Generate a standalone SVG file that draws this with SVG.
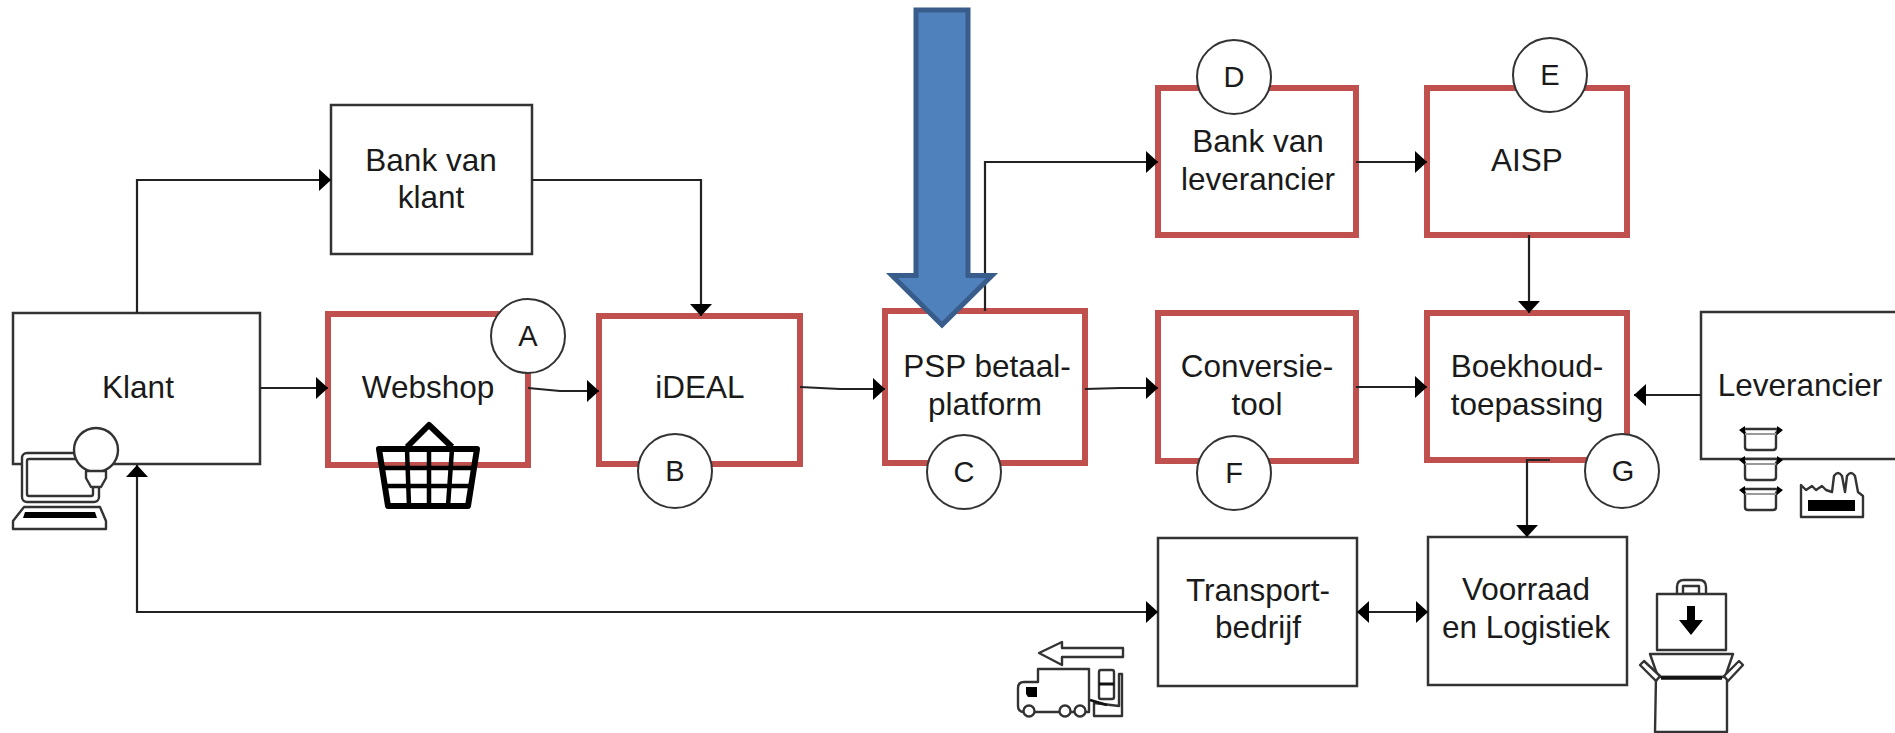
<svg xmlns="http://www.w3.org/2000/svg" width="1895" height="733" viewBox="0 0 1895 733">
<style>
text{font-family:"Liberation Sans",Arial,sans-serif;font-size:31.5px;fill:#1a1a1a;text-anchor:middle}
.k{fill:#fff;stroke:#333;stroke-width:2.5}
.r{fill:#fff;stroke:#c0504d;stroke-width:6}
.c{fill:#fff;stroke:#333;stroke-width:2}
.t{font-size:29px}
.l{fill:none;stroke:#222;stroke-width:2.2}
.i{fill:#fff;stroke:#333;stroke-width:2.4;stroke-linejoin:round}
.b{fill:none;stroke:#000;stroke-width:6;stroke-linejoin:round}
.f{fill:#000}
</style>
<defs>
<marker id="a" viewBox="0 0 12 22" refX="12" refY="11" markerWidth="12" markerHeight="22" markerUnits="userSpaceOnUse" orient="auto-start-reverse"><path d="M0 0L12 11L0 22z" fill="#000"/></marker>
</defs>
<rect width="1895" height="733" fill="#fff"/>
<g id="klant"><rect class="k" x="13" y="313" width="247" height="151"/><text x="138" y="398">Klant</text></g>
<g id="bank-van-klant"><rect class="k" x="331" y="105" width="201" height="149"/><text x="431" y="171">Bank van</text><text x="431" y="208">klant</text></g>
<g id="webshop"><rect class="r" x="328" y="314" width="200" height="151"/><text x="428" y="398">Webshop</text></g>
<g id="ideal"><rect class="r" x="599" y="316" width="201" height="148"/><text x="700" y="398">iDEAL</text></g>
<g id="psp"><rect class="r" x="885" y="311" width="200" height="152"/><text x="987" y="377">PSP betaal-</text><text x="985" y="415">platform</text></g>
<g id="conversie"><rect class="r" x="1158" y="313" width="198" height="148"/><text x="1257" y="377">Conversie-</text><text x="1257" y="415">tool</text></g>
<g id="boekhoud"><rect class="r" x="1427" y="313" width="200" height="147"/><text x="1527" y="377">Boekhoud-</text><text x="1527" y="415">toepassing</text></g>
<g id="bank-lev"><rect class="r" x="1158" y="88" width="198" height="147"/><text x="1258" y="152">Bank van</text><text x="1258" y="190">leverancier</text></g>
<g id="aisp"><rect class="r" x="1427" y="88" width="200" height="147"/><text x="1527" y="171">AISP</text></g>
<g id="leverancier"><rect class="k" x="1701" y="312" width="210" height="147"/><text x="1800" y="396">Leverancier</text></g>
<g id="transport"><rect class="k" x="1158" y="538" width="199" height="148"/><text x="1258" y="601">Transport-</text><text x="1258" y="638">bedrijf</text></g>
<g id="voorraad"><rect class="k" x="1428" y="537" width="199" height="148"/><text x="1526" y="600">Voorraad</text><text x="1526" y="638">en Logistiek</text></g>
<g id="connectors" class="l">
<path class="l" d="M137 313V180H331" marker-end="url(#a)"/>
<path class="l" d="M532 180H701V316" marker-end="url(#a)"/>
<path class="l" d="M260 388H328" marker-end="url(#a)"/>
<path class="l" d="M528 388L560 391H599" marker-end="url(#a)"/>
<path class="l" d="M800 387L840 389H885" marker-end="url(#a)"/>
<path class="l" d="M1085 389L1120 388H1158" marker-end="url(#a)"/>
<path class="l" d="M1356 387H1427" marker-end="url(#a)"/>
<path class="l" d="M1701 395H1634" marker-end="url(#a)"/>
<path class="l" d="M985 311V162H1158" marker-end="url(#a)"/>
<path class="l" d="M1356 162H1427" marker-end="url(#a)"/>
<path class="l" d="M1529 235V313" marker-end="url(#a)"/>
<path class="l" d="M1550 460H1527V537" marker-end="url(#a)"/>
<path class="l" d="M1158 612H137V465" marker-start="url(#a)" marker-end="url(#a)"/>
<path class="l" d="M1357 612H1428" marker-start="url(#a)" marker-end="url(#a)"/>
</g>
<g id="circles">
<g id="circle-a"><circle class="c" cx="528" cy="336" r="37"/><text class="t" x="528" y="346">A</text></g>
<g id="circle-b"><circle class="c" cx="675" cy="471" r="37"/><text class="t" x="675" y="481">B</text></g>
<g id="circle-c"><circle class="c" cx="964" cy="472" r="37"/><text class="t" x="964" y="482">C</text></g>
<g id="circle-d"><circle class="c" cx="1234" cy="77" r="37"/><text class="t" x="1234" y="87">D</text></g>
<g id="circle-e"><circle class="c" cx="1550" cy="75" r="37"/><text class="t" x="1550" y="85">E</text></g>
<g id="circle-f"><circle class="c" cx="1234" cy="473" r="37"/><text class="t" x="1234" y="483">F</text></g>
<g id="circle-g"><circle class="c" cx="1622" cy="471" r="37"/><text class="t" x="1623" y="481">G</text></g>
</g>
<g id="block-arrow"><path d="M916 10H968V275.500H992L942 325L892 275.500H916z" fill="#4f81bd" stroke="#385d8a" stroke-width="5"/></g>
<g id="icon-laptop">
<rect class="i" x="22" y="453" width="77" height="49" rx="5"/><rect class="i" x="27" y="459" width="66" height="37" rx="2"/>
<path class="i" d="M24 507H100L106 521V529H13V521z"/><path class="f" d="M25 512H95L97 518H23z"/>
<circle class="i" cx="96" cy="450" r="22"/><path class="i" d="M86 471H106V478L101 487H91L86 478z"/>
</g>
<g id="icon-basket">
<path class="b" d="M379 449H477L468 506H388z"/><path class="b" d="M407 447L429 425L452 447"/><path fill="none" stroke="#000" stroke-width="4.500" d="M381 468H475M384 486H472M407 449L409 506M429 449V506M452 449L448 506"/>
</g>
<g id="icon-pots">
<g id="pot1"><path class="i" d="M1743 429H1779L1776 433V447Q1776 450 1773 450H1748Q1745 450 1745 447V433z"/><path fill="none" stroke="#999" stroke-width="2" d="M1745 434H1776"/><path class="f" d="M1739 430L1745 426V435zM1783 430L1777 426V435z"/></g>
<g id="pot2"><path class="i" d="M1743 459H1779L1776 463V477Q1776 480 1773 480H1748Q1745 480 1745 477V463z"/><path fill="none" stroke="#999" stroke-width="2" d="M1745 464H1776"/><path class="f" d="M1739 460L1745 456V465zM1783 460L1777 456V465z"/></g>
<g id="pot3"><path class="i" d="M1743 489H1779L1776 493V507Q1776 510 1773 510H1748Q1745 510 1745 507V493z"/><path fill="none" stroke="#999" stroke-width="2" d="M1745 494H1776"/><path class="f" d="M1739 490L1745 486V495zM1783 490L1777 486V495z"/></g>
</g>
<g id="icon-factory">
<path class="i" d="M1801 517V485L1806 490L1812 486L1816 490L1822 486L1826 490L1832 492L1834 476Q1838 470 1842 476L1845 492L1847 476Q1851 470 1855 476L1858 492L1863 496V517z"/><rect class="f" x="1808" y="500" width="47" height="11"/>
</g>
<g id="icon-bag">
<path class="i" d="M1677 594V587Q1677 580 1684 580H1699Q1706 580 1706 587V594"/><rect class="i" x="1683" y="586" width="16" height="8"/>
<rect class="i" x="1657" y="594" width="69" height="56"/><path class="f" d="M1687 606H1695V620H1703L1691 635L1679 620H1687z"/>
</g>
<g id="icon-box">
<path class="i" d="M1650 654H1733L1725 677H1658z"/><path class="i" d="M1656 677H1727V732H1655z"/><path fill="none" stroke="#111" stroke-width="3.5" d="M1661 678H1722"/>
<path class="i" d="M1640 665L1644 661L1660 676L1656 681zM1743 665L1739 661L1724 676L1728 681z"/>
</g>
<g id="icon-truck">
<path class="i" d="M1039 653L1062 642V648H1123V657H1062V665z"/>
<path class="i" d="M1038 669H1089V712H1024Q1018 712 1018 706V688Q1018 682 1024 682H1038z"/>
<path class="f" d="M1026 687H1037V697H1028L1026 694z"/>
<circle class="i" cx="1029" cy="711" r="5.500"/><circle class="i" cx="1065" cy="711" r="5.500"/><circle class="i" cx="1080" cy="711" r="5.500"/>
<rect class="i" x="1099" y="670" width="15" height="29" rx="2"/><path fill="none" stroke="#111" stroke-width="3" d="M1099 684H1114"/>
<path class="i" d="M1119 674H1122V716H1094V703L1119 706z"/><path fill="none" stroke="#111" stroke-width="2.500" d="M1090 700L1107 705"/>
</g>
</svg>
